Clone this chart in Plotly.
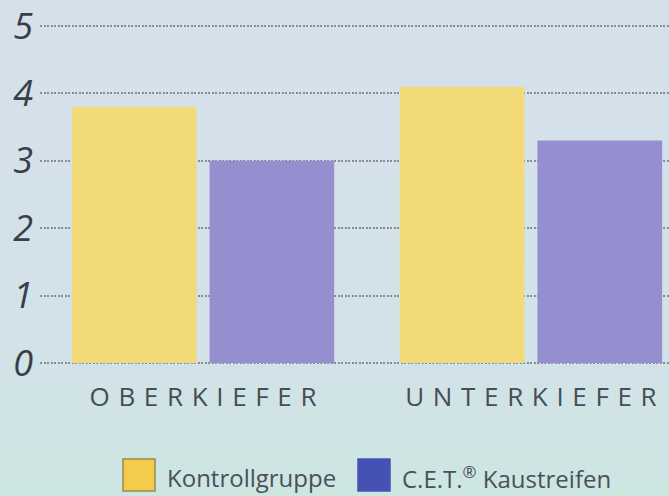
import base64
import struct
import zlib

import plotly.graph_objects as go

# ---- data ----
categories = ["OBERKIEFER", "UNTERKIEFER"]
series_names = ["Kontrollgruppe", "C.E.T.<sup>®</sup> Kaustreifen"]
kontroll_values = [3.8, 4.1]
cet_values = [3.0, 3.3]
y_tick_values = [0, 1, 2, 3, 4, 5]
y_tick_labels = ["0", "1", "2", "3", "4", "5"]

# ---- style ----
bar_colors = ["#f2da78", "#958fd0"]
legend_colors = ["#f2cc4a", "#4552b4"]
legend_borders = ["#9a8a4c", "#4552b4"]
text_grey = "#4a5057"
bg = "#d3e1e9"
bg_stops = [(0.0, (213, 224, 234)), (0.7, (210, 226, 233)), (1.0, (205, 230, 226))]

W, H = 669, 496
ML, MR, MT, MB = 40, 0, 0, 130
PW, PH = W - ML - MR, H - MT - MB

SP = "\u2004"
x_tick_text = [SP.join(c) for c in categories]


def gradient_png(stops, n=128):
    rows = []
    for i in range(n):
        t = i / (n - 1)
        for (t0, c0), (t1, c1) in zip(stops[:-1], stops[1:]):
            if t0 <= t <= t1:
                f = (t - t0) / (t1 - t0) if t1 > t0 else 0
                rows.append(tuple(int(round(a + (b - a) * f)) for a, b in zip(c0, c1)))
                break
    raw = b"".join(b"\x00" + bytes(c) for c in rows)

    def chunk(tag, data):
        return (struct.pack(">I", len(data)) + tag + data
                + struct.pack(">I", zlib.crc32(tag + data) & 0xFFFFFFFF))

    ihdr = struct.pack(">IIBBBBB", 1, len(rows), 8, 2, 0, 0, 0)
    png = (b"\x89PNG\r\n\x1a\n" + chunk(b"IHDR", ihdr)
           + chunk(b"IDAT", zlib.compress(raw)) + chunk(b"IEND", b""))
    return "data:image/png;base64," + base64.b64encode(png).decode()


fig = go.Figure()
for name, vals, col in zip(series_names, [kontroll_values, cet_values], bar_colors):
    fig.add_trace(go.Bar(
        x=categories, y=vals, name=name,
        marker=dict(color=col, line=dict(width=0)),
        showlegend=False, hoverinfo="skip",
    ))


def px_x(p):
    return (p - ML) / PW


def px_y(p):
    return (H - MB - p) / PH


# background gradient
fig.add_layout_image(
    source=gradient_png(bg_stops), xref="paper", yref="paper",
    x=px_x(0), y=px_y(0), sizex=px_x(W) - px_x(0), sizey=px_y(0) - px_y(H),
    xanchor="left", yanchor="top", sizing="stretch", layer="below",
)

# manual legend (large square swatches)
legend_x = [123, 358]
sq = 32
sq_top = 459
for lx, name, col, bcol in zip(legend_x, series_names, legend_colors, legend_borders):
    fig.add_shape(type="rect", xref="paper", yref="paper",
                  x0=px_x(lx), x1=px_x(lx + sq), y0=px_y(sq_top + sq), y1=px_y(sq_top),
                  fillcolor=col, line=dict(color=bcol, width=1.5), layer="above")
    fig.add_annotation(xref="paper", yref="paper", x=px_x(lx + sq + 10), y=px_y(sq_top + sq / 2 + 3),
                       xanchor="left", yanchor="middle", showarrow=False, text=name,
                       font=dict(family="Open Sans", size=24, color=text_grey))

fig.update_layout(
    width=W, height=H,
    margin=dict(l=ML, r=MR, t=MT, b=MB, pad=0),
    paper_bgcolor=bg, plot_bgcolor="rgba(0,0,0,0)",
    barmode="group", bargap=0.16, bargroupgap=0.095,
    showlegend=False,
    xaxis=dict(
        type="category", range=[-0.497, 1.421],
        tickvals=categories, ticktext=x_tick_text,
        tickfont=dict(family="Open Sans", size=26, color="#474d55"),
        showgrid=False, showline=False, zeroline=False, ticks="",
        ticklabelstandoff=13, automargin=False, ticklabeloverflow="allow",
    ),
    yaxis=dict(
        range=[-0.0445, 5.386],
        tickvals=y_tick_values, ticktext=y_tick_labels,
        tickfont=dict(family="Open Sans", size=36, color="#3a3f46", style="italic"),
        showgrid=True, gridcolor="#858c95", gridwidth=1.6, griddash="2px,1.5px",
        showline=False, zeroline=False, ticks="",
        ticklabelstandoff=6, automargin=False, ticklabeloverflow="allow",
    ),
)

fig.write_html(
    "out.html",
    config={"displayModeBar": False},
    post_script="document.body.style.margin='0';document.body.style.background='" + bg + "';",
)
